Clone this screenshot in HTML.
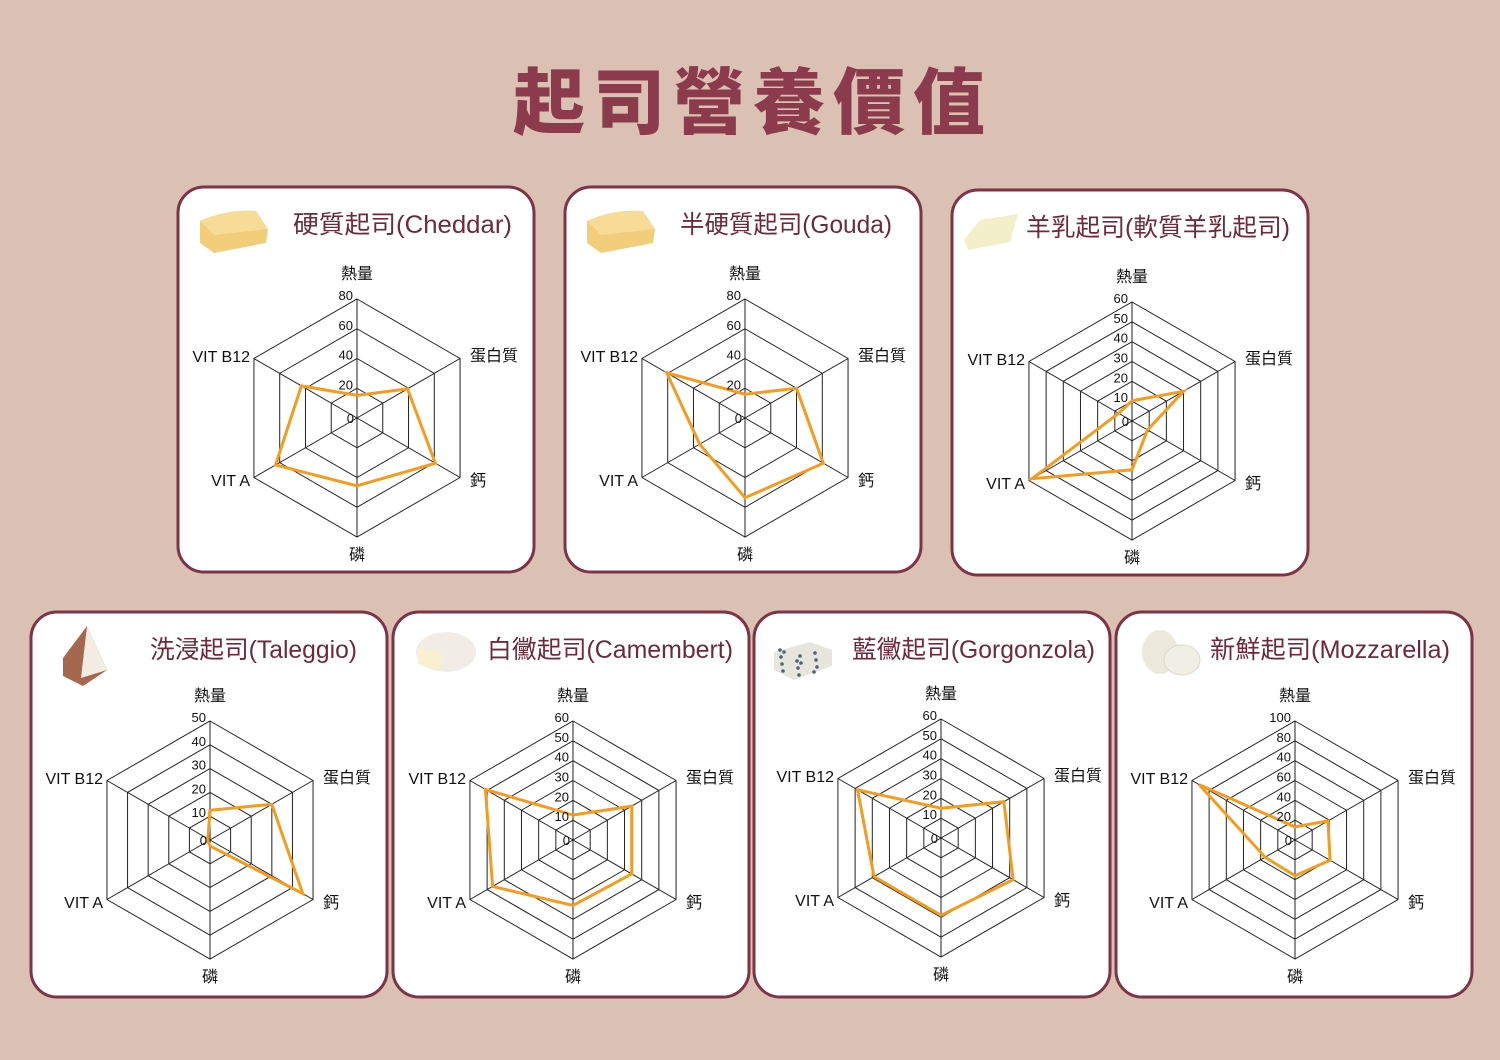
<!DOCTYPE html>
<html><head><meta charset="utf-8">
<style>
html,body{margin:0;padding:0;}
body{width:1500px;height:1060px;background:#dbc0b4;overflow:hidden;font-family:"Liberation Sans","Noto Sans CJK TC",sans-serif;}
</style></head>
<body>
<svg id="s" width="1500" height="1060" xmlns="http://www.w3.org/2000/svg" style="position:absolute;left:0;top:0">
<text x="751" y="128" text-anchor="middle" font-family="'Noto Sans CJK TC','Noto Sans CJK SC',sans-serif" font-weight="900" font-size="72" fill="#8b3b4c" letter-spacing="4" textLength="476">起司營養價值</text>
</svg>
<script>
const S=document.getElementById('s');
const NS='http://www.w3.org/2000/svg';
function el(t,a,txt){const e=document.createElementNS(NS,t);for(const k in a)e.setAttribute(k,a[k]);if(txt!=null)e.textContent=txt;S.appendChild(e);return e;}
const cards=[
 {x:178,y:187,title:'硬質起司(Cheddar)',tx:293,tw:219,cx:357,cy:418,rings:['20','40','60','80'],d:[0.19,0.49,0.76,0.57,0.79,0.54],icon:'block'},
 {x:565,y:187,title:'半硬質起司(Gouda)',tx:680,tw:212,cx:745,cy:418,rings:['20','40','60','80'],d:[0.2,0.5,0.76,0.67,0.44,0.76],icon:'block'},
 {x:952,y:190,title:'羊乳起司(軟質羊乳起司)',tx:1026,tw:264,cx:1132,cy:421,rings:['10','20','30','40','50','60'],d:[0.17,0.5,0.15,0.41,0.97,0.13],icon:'goat'},
 {x:31,y:612,title:'洗浸起司(Taleggio)',tx:150,tw:207,cx:210,cy:840,rings:['10','20','30','40','50'],d:[0.25,0.6,0.9,0.05,0.02,0.02],icon:'tal'},
 {x:393,y:612,title:'白黴起司(Camembert)',tx:487,tw:246,cx:573,cy:840,rings:['10','20','30','40','50','60'],d:[0.21,0.57,0.57,0.55,0.78,0.85],icon:'cam'},
 {x:754,y:612,title:'藍黴起司(Gorgonzola)',tx:852,tw:243,cx:941,cy:838,rings:['10','20','30','40','50','60'],d:[0.25,0.61,0.7,0.65,0.65,0.81],icon:'blue'},
 {x:1116,y:612,title:'新鮮起司(Mozzarella)',tx:1210,tw:240,cx:1295,cy:840,rings:['20','40','60','40','80','100'],d:[0.11,0.32,0.34,0.3,0.29,0.93],icon:'moz'}
];
const R=119;
const ang=[-90,-30,30,90,150,210].map(a=>a*Math.PI/180);
function pt(cx,cy,r,i){return [cx+r*Math.cos(ang[i]),cy+r*Math.sin(ang[i])];}
cards.forEach(c=>{
 el('rect',{x:c.x,y:c.y,width:356,height:385,rx:26,fill:'#fff',stroke:'#7c3446','stroke-width':3});
 const ix=c.x+58,iy=c.y+44;
 if(c.icon==='block'){
  el('path',{d:`M${ix-36} ${iy-10} Q${ix-10} ${iy-22} ${ix+20} ${iy-20} L${ix+32} ${iy-2} L${ix+30} ${iy+12} L${ix-22} ${iy+22} L${ix-36} ${iy+12}Z`,fill:'#f2cd7a'});
  el('path',{d:`M${ix-36} ${iy-10} Q${ix-10} ${iy-22} ${ix+20} ${iy-20} L${ix+32} ${iy-2} L${ix-22} ${iy+4}Z`,fill:'#f7dc98'});
 } else if(c.icon==='goat'){
  el('path',{d:`M${ix-46} ${iy+6} L${ix-30} ${iy-14} L${ix+8} ${iy-20} L${ix} ${iy+8} L${ix-42} ${iy+16}Z`,fill:'#f3efc8'});
 } else if(c.icon==='tal'){
  el('path',{d:`M${ix-26} ${iy+2} L${ix-2} ${iy-30} L${ix+18} ${iy+14} L${ix-6} ${iy+30} L${ix-26} ${iy+20}Z`,fill:'#a5674d'});
  el('path',{d:`M${ix-2} ${iy-30} L${ix+18} ${iy+14} L${ix-8} ${iy+22}Z`,fill:'#f4ece2'});
 } else if(c.icon==='cam'){
  el('ellipse',{cx:ix-5,cy:iy-4,rx:30,ry:20,fill:'#f1ede6'});
  el('path',{d:`M${ix-33} ${iy-8} L${ix-8} ${iy-4} L${ix-12} ${iy+14} L${ix-33} ${iy+8}Z`,fill:'#f8f0cf'});
 } else if(c.icon==='blue'){
  el('path',{d:`M${ix-38} ${iy-4} L${ix-2} ${iy-14} L${ix+20} ${iy-6} L${ix+20} ${iy+10} L${ix-18} ${iy+24} L${ix-38} ${iy+14}Z`,fill:'#e6e6df'});
  for(let k=0;k<14;k++)el('circle',{cx:ix-32+((k*17)%50),cy:iy-6+((k*11)%26),r:1.8,fill:'#556070'});
 } else if(c.icon==='moz'){
  el('ellipse',{cx:ix-14,cy:iy-4,rx:18,ry:22,fill:'#ece8dc'});
  el('ellipse',{cx:ix+8,cy:iy+4,rx:18,ry:15,fill:'#f1eee6',stroke:'#ddd8ca'});
 }
 el('text',{x:c.tx,y:c.y+46,'font-size':25,fill:'#6e2a3a',textLength:c.tw,lengthAdjust:'spacingAndGlyphs','font-family':"'Liberation Sans','Noto Sans CJK TC',sans-serif"},c.title);
 const n=c.rings.length;
 for(let k=1;k<=n;k++){
  const r=R*k/n;
  el('polygon',{points:[0,1,2,3,4,5].map(i=>pt(c.cx,c.cy,r,i).join(',')).join(' '),fill:'none',stroke:'#222','stroke-width':1});
 }
 for(let i=0;i<6;i++){const p=pt(c.cx,c.cy,R,i);el('line',{x1:c.cx,y1:c.cy,x2:p[0],y2:p[1],stroke:'#222','stroke-width':1});}
 el('polygon',{points:c.d.map((v,i)=>pt(c.cx,c.cy,R*v,i).join(',')).join(' '),fill:'none',stroke:'#f39c1e','stroke-width':3,'stroke-linejoin':'miter'});
 const fs={'font-size':13,fill:'#111','text-anchor':'end'};
 el('text',Object.assign({x:c.cx-3,y:c.cy+5},fs),'0');
 c.rings.forEach((t,k)=>{el('text',Object.assign({x:c.cx-4,y:c.cy-R*(k+1)/n+1},fs),t);});
 const lf={'font-size':16,fill:'#111'};
 el('text',Object.assign({x:c.cx,y:c.cy-139,'text-anchor':'middle'},lf),'熱量');
 el('text',Object.assign({x:c.cx,y:c.cy+142,'text-anchor':'middle'},lf),'磷');
 el('text',Object.assign({x:c.cx+113,y:c.cy-57},lf),'蛋白質');
 el('text',Object.assign({x:c.cx+113,y:c.cy+68},lf),'鈣');
 el('text',Object.assign({x:c.cx-107,y:c.cy-56,'text-anchor':'end'},lf),'VIT B12');
 el('text',Object.assign({x:c.cx-107,y:c.cy+68,'text-anchor':'end'},lf),'VIT A');
});
</script>
</body></html>
